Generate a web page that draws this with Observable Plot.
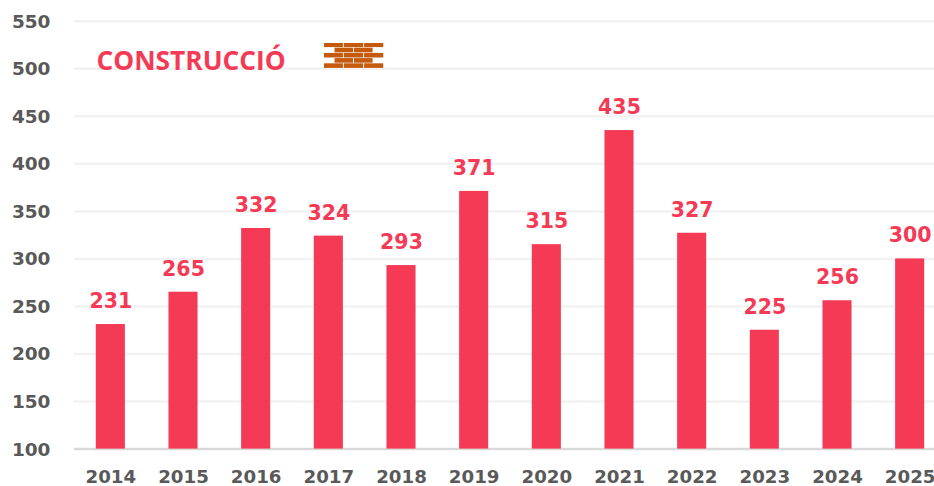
<!DOCTYPE html>
<html><head><meta charset="utf-8">
<script src="https://cdn.jsdelivr.net/npm/d3@7"></script>
<script src="https://cdn.jsdelivr.net/npm/@observablehq/plot@0.6"></script>
<style>html,body{margin:0;padding:0;background:#fff;overflow:hidden}svg{display:block}</style>
</head><body><div id="chart"></div>
<script>
const years = ["2014","2015","2016","2017","2018","2019","2020","2021","2022","2023","2024","2025"];
const values = [231,265,332,324,293,371,315,435,327,225,256,300];
const yTicks = [100,150,200,250,300,350,400,450,500,550];
const gridValues = [150,200,250,300,350,400,450,500,550];
const baseline = [100];
const titleText = ["CONSTRUCCIÓ"];
const rows = years.map((year,i)=>({year,value:values[i]}));

const bricks = [];
[0,1,2,3,4].forEach(r=>{
  if(r%2===0){[0,20.3,40.6].forEach(x=>bricks.push(`<rect x="${x}" y="${r*5.2}" width="19.4" height="4.6"/>`));}
  else{[11,30.5].forEach(x=>bricks.push(`<rect x="${x}" y="${r*5.2}" width="18.6" height="4.6"/>`));}
});
const brickSvg = `<svg xmlns="http://www.w3.org/2000/svg" width="60" height="26" viewBox="0 0 60 26"><filter id="b"><feGaussianBlur stdDeviation="0.45"/></filter><g fill="#C55A11" filter="url(#b)">${bricks.join("")}</g></svg>`;
const brickUri = "data:image/svg+xml;charset=utf-8,"+encodeURIComponent(brickSvg);

const chart = Plot.plot({
  width:934,height:486,
  marginLeft:74,marginRight:0,marginTop:20,marginBottom:38,
  style:{background:"#fff",fontFamily:"'DejaVu Sans',sans-serif"},
  x:{type:"band",domain:years,range:[74,946],round:false,paddingInner:0.6,paddingOuter:0.3,label:null,tickSize:0},
  y:{domain:[100,550],range:[448.6,20.7],label:null,ticks:yTicks},
  marks:[
    Plot.ruleY(gridValues,{stroke:"#F2F2F2",strokeWidth:2.5}),
    Plot.ruleY(baseline,{stroke:"#D9D9D9",strokeWidth:2.5}),
    Plot.barY(rows,{x:"year",y1:100,y2:"value",fill:"#F43A55"}),
    Plot.text(rows,{x:"year",y:"value",text:d=>String(d.value),dy:-23,fill:"#F43A55",fontSize:20.5,fontWeight:"bold"}),
    Plot.axisY({ticks:yTicks,tickSize:0,tickPadding:0,anchor:"left",dx:-24,dy:0.5,fill:"#595959",fontSize:18.5,fontWeight:"bold",label:null,textAnchor:"end"}),
    Plot.axisX({tickSize:0,tickPadding:0,dy:22,fill:"#595959",fontSize:18.2,fontWeight:"bold",label:null}),
    Plot.text(titleText,{frameAnchor:"top-left",dx:22,dy:41,textAnchor:"start",lineAnchor:"middle",fill:"#F43A55",fontSize:26.3,fontWeight:"bold",fontFamily:"'Open Sans',sans-serif"}),
    Plot.image(titleText,{src:()=>brickUri,frameAnchor:"top-left",dx:279,dy:35,width:60,height:26})
  ]
});
document.getElementById("chart").append(chart);
</script></body></html>
